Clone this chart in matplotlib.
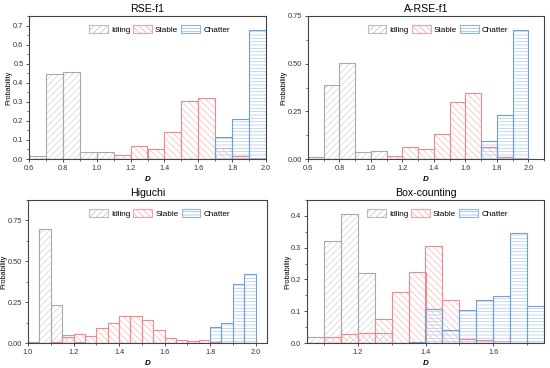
import numpy as np
import matplotlib
matplotlib.use("Agg")
import matplotlib.pyplot as plt
from matplotlib.patches import Patch
from matplotlib.ticker import MultipleLocator, AutoMinorLocator

plt.rcParams['font.family'] = ['Liberation Sans', 'DejaVu Sans']
plt.rcParams['hatch.linewidth'] = 0.5

# --- RSE-f1 (bins of 0.1 from 0.6 to 2.0)
rse_edges = np.round(np.arange(0.6, 2.0001, 0.1), 2)
rse_idling = [0.015, 0.445, 0.455, 0.038, 0.038, 0, 0, 0, 0, 0, 0, 0, 0, 0]
rse_stable = [0, 0.002, 0.002, 0.002, 0.002, 0.022, 0.068, 0.055, 0.14, 0.305, 0.32, 0.06, 0.015, 0.005]
rse_chatter = [0, 0, 0, 0, 0, 0, 0, 0, 0, 0, 0, 0.118, 0.208, 0.675]

# --- A-RSE-f1
arse_edges = rse_edges
arse_idling = [0.012, 0.39, 0.505, 0.038, 0.042, 0, 0, 0, 0, 0, 0, 0, 0, 0]
arse_stable = [0, 0.002, 0.002, 0.002, 0.002, 0.018, 0.065, 0.05, 0.132, 0.30, 0.345, 0.065, 0.01, 0.005]
arse_chatter = [0, 0, 0, 0, 0, 0, 0, 0, 0, 0, 0, 0.095, 0.233, 0.675]

# --- Higuchi (bins of 0.05 from 1.0 to 2.0)
hig_edges = np.round(np.arange(1.0, 2.0001, 0.05), 2)
hig_idling = [0.008, 0.70, 0.235, 0.05, 0.005, 0, 0, 0, 0, 0, 0, 0, 0, 0, 0, 0, 0, 0, 0, 0]
hig_stable = [0, 0.002, 0.005, 0.035, 0.055, 0.045, 0.09, 0.12, 0.168, 0.168, 0.138, 0.078,
              0.032, 0.02, 0.01, 0.018, 0.005, 0.002, 0, 0]
hig_chatter = [0, 0, 0, 0, 0, 0, 0, 0, 0, 0, 0, 0, 0, 0, 0, 0, 0.10, 0.12, 0.36, 0.42]

# --- Box-counting (bins of 0.05 from 1.05 to 1.75)
box_edges = np.round(np.arange(1.05, 1.7501, 0.05), 2)
box_idling = [0.02, 0.32, 0.405, 0.22, 0.03, 0, 0, 0, 0, 0, 0, 0, 0, 0]
box_stable = [0, 0.02, 0.028, 0.032, 0.075, 0.16, 0.222, 0.305, 0.135, 0.012, 0.008, 0.005, 0, 0]
box_chatter = [0, 0, 0, 0, 0, 0, 0.002, 0.108, 0.042, 0.105, 0.135, 0.147, 0.345, 0.115]

labels = ['Idling', 'Stable', 'Chatter']
edge_cols = ['#a8a8a8', '#f08a8a', '#6e9fdc']
hatch_cols = ['#d4d4d4', '#f6b8b8', '#aecbef']
legend_cols = ['#bcbcbc', '#f3a3a3', '#8fb5e6']
hatches = ['/////', '\\\\\\\\\\', '-----']

W, H = 550, 368
# rect in pixels: left, top, right, bottom ; ylabel x position in pixels
panels = [
    dict(title='RSE-f1', edges=rse_edges, data=[rse_idling, rse_stable, rse_chatter],
         xlim=(0.6, 2.0), ylim=(0, 0.75), ymaj=0.1, yfmt='%.1f',
         px=(29, 16, 266, 159), ylab=12),
    dict(title='A-RSE-f1', edges=arse_edges, data=[arse_idling, arse_stable, arse_chatter],
         xlim=(0.6, 2.1), ylim=(0, 0.75), ymaj=0.25, yfmt='%.2f',
         px=(308, 16, 544, 159), ylab=287),
    dict(title='Higuchi', edges=hig_edges, data=[hig_idling, hig_stable, hig_chatter],
         xlim=(1.0, 2.05), ylim=(0, 0.875), ymaj=0.25, yfmt='%.2f',
         px=(28, 200, 267, 343), ylab=7),
    dict(title='Box-counting', edges=box_edges, data=[box_idling, box_stable, box_chatter],
         xlim=(1.05, 1.75), ylim=(0, 0.45), ymaj=0.1, yfmt='%.1f',
         px=(307, 200, 544, 343), ylab=291),
]

fig = plt.figure(figsize=(W / 100, H / 100), dpi=100)

for p in panels:
    l, t, r, b = p['px']
    ax = fig.add_axes([l / W, 1 - b / H, (r - l) / W, (b - t) / H])
    e = p['edges']
    w = e[1] - e[0]
    for vals, ec, hc, h in zip(p['data'], edge_cols, hatch_cols, hatches):
        ax.bar(e[:-1], vals, width=w, align='edge', facecolor='none',
               edgecolor=hc, hatch=h, linewidth=0)
        ax.bar(e[:-1], vals, width=w, align='edge', fill=False,
               edgecolor=ec, linewidth=0.8)
    ax.set_xlim(*p['xlim'])
    ax.set_ylim(*p['ylim'])
    ax.xaxis.set_major_locator(MultipleLocator(0.2))
    ax.yaxis.set_major_locator(MultipleLocator(p['ymaj']))
    ax.xaxis.set_minor_locator(AutoMinorLocator(2))
    ax.yaxis.set_minor_locator(AutoMinorLocator(2))
    ax.xaxis.set_major_formatter(plt.FormatStrFormatter('%.1f'))
    ax.yaxis.set_major_formatter(plt.FormatStrFormatter(p['yfmt']))
    ax.tick_params(which='major', direction='out', length=2.5, width=0.6,
                   labelsize=5.3, colors='#333333', pad=1.5)
    ax.tick_params(which='minor', direction='out', length=1.5, width=0.5, colors='#333333')
    for s in ax.spines.values():
        s.set_color('#444444')
        s.set_linewidth(0.8)
    ax.set_title(p['title'], fontsize=7.6, pad=3)
    ax.set_ylabel('Probability', fontsize=5.3)
    ax.yaxis.set_label_coords((p['ylab'] - l) / (r - l), 0.5)
    ax.set_xlabel('D', fontsize=5.8, fontweight='bold', style='italic', labelpad=3)
    handles = [Patch(facecolor='none', edgecolor=lc, hatch=h, linewidth=0.8)
               for lc, h in zip(legend_cols, hatches)]
    ax.legend(handles, labels, loc='upper center', bbox_to_anchor=(0.55, 0.97), ncol=3,
              frameon=False, fontsize=5.9, handlelength=2.3, handleheight=1.1,
              columnspacing=0.4, handletextpad=0.35, borderaxespad=0.2)

fig.savefig('out.png', dpi=100)
